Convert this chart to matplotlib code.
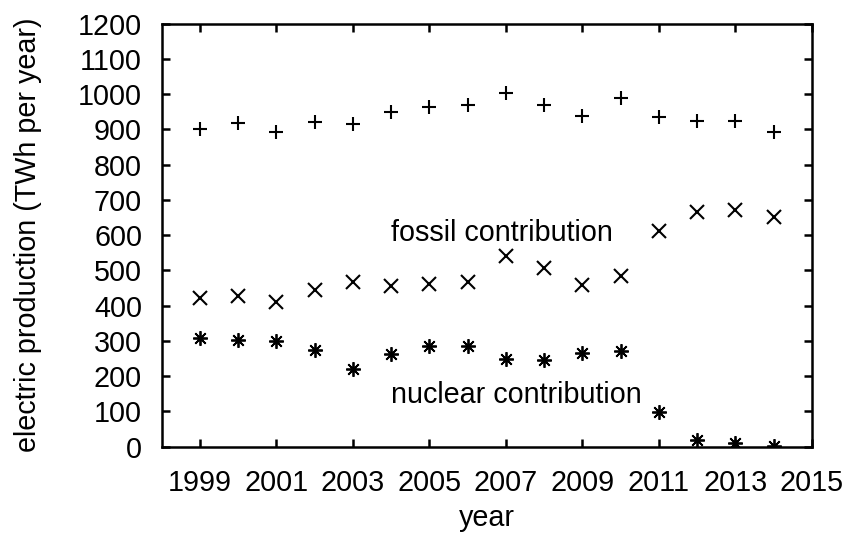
import matplotlib
matplotlib.use("Agg")
import matplotlib.pyplot as plt

years = list(range(1999, 2015))
total_production = [900, 917, 893, 921, 914, 948, 964, 969, 1002, 970, 939, 989, 935, 923, 923, 892]
fossil_contribution = [423, 428, 409, 444, 466, 456, 461, 467, 540, 508, 458, 485, 612, 667, 672, 650]
nuclear_contribution = [309, 302, 300, 274, 219, 263, 285, 285, 250, 246, 265, 271, 99, 19, 11, 2]

x_ticks = list(range(1999, 2016, 2))
y_ticks = list(range(0, 1201, 100))

plt.rcParams["font.family"] = ["Liberation Sans", "DejaVu Sans"]
plt.rcParams["font.size"] = 20.7

fig = plt.figure(figsize=(8.5, 5.35), dpi=100)
ax = fig.add_axes([0.190, 0.165, 0.765, 0.791])

marker_style = dict(linestyle="none", color="black", markeredgewidth=1.5)
ax.plot(years, total_production, marker="+", markersize=10, **marker_style)
ax.plot(years, fossil_contribution, marker="x", markersize=9.5, **marker_style)
ax.plot(years, nuclear_contribution, marker=(8, 2, 0), markersize=10.5,
        linestyle="none", color="black", markeredgewidth=1.3)

ax.text(2004, 583, "fossil contribution", ha="left", va="baseline")
ax.text(2004, 124, "nuclear contribution", ha="left", va="baseline")

ax.set_xlim(1998, 2015)
ax.set_ylim(0, 1200)
ax.set_xticks(x_ticks)
ax.set_yticks(y_ticks)
ax.set_xlabel("year", labelpad=5)
ax.set_ylabel("electric production (TWh per year)", labelpad=26)

for spine in ax.spines.values():
    spine.set_linewidth(1.8)
ax.tick_params(direction="in", length=6, width=1.8, top=True, right=True)
ax.tick_params(axis="x", pad=16)
ax.tick_params(axis="y", pad=14)

fig.savefig("out.png", dpi=100)
plt.close(fig)
